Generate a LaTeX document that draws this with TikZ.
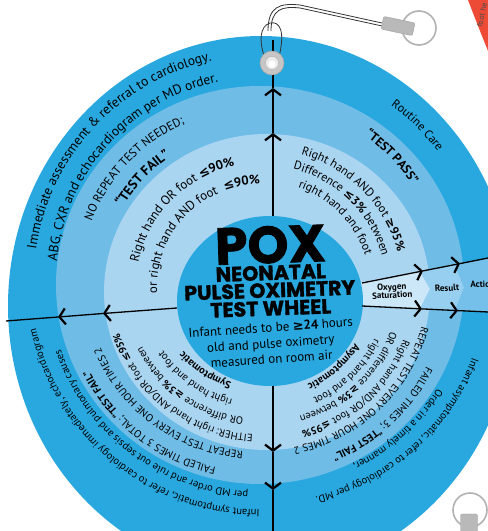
\documentclass[tikz,border=0pt]{standalone}
\usepackage{fontspec}
\setmainfont{PT Sans}
\newfontfamily\titlefont{Poppins}[BoldFeatures={FakeBold=1.5}]
\newfontfamily\symf{DejaVu Sans}
\usetikzlibrary{decorations.text,arrows.meta}
\definecolor{outerblue}{HTML}{29A8E0}
\definecolor{midblue}{HTML}{6FBCE7}
\definecolor{innerblue}{HTML}{AAD5F1}
\definecolor{centerblue}{HTML}{29A8E0}
\definecolor{oxyband}{HTML}{CBE7F8}
\definecolor{resband}{HTML}{97CFF0}
\definecolor{actband}{HTML}{74C0EA}
\definecolor{redwheel}{HTML}{EE4B36}
\newcommand\myfo{\fontsize{12}{14}\selectfont}
\newcommand\myfoL{\fontsize{13.5}{15}\selectfont}
\newcommand\myfmL{\fontsize{12}{14}\selectfont}
\newcommand\myfmb{\fontsize{12.5}{14}\selectfont\bfseries}
\newcommand\myfmbL{\fontsize{13.5}{15}\selectfont\bfseries}
\newcommand\myfin{\fontsize{12}{14}\selectfont}
\newcommand\myfinb{\fontsize{12}{14}\selectfont\bfseries}
\newcommand\myfinL{\fontsize{12.8}{14}\selectfont}
\newcommand\myfinbL{\fontsize{12.8}{14}\selectfont\bfseries}
\newcommand\myfs{\fontsize{10.5}{12}\selectfont}
\newcommand\myfsb{\fontsize{10.5}{12}\selectfont\bfseries}
% #1 cx, #2 cy, #3 rx, #4 ry, #5 mid angle, #6 format, #7 text
\newcommand\arctext[7]{%
  \path[decorate,decoration={text along path,text align=center,text={|#6|#7}}]
    (#1,#2) ++(#5+85:#3 and #4) arc[start angle=#5+85,end angle=#5-85,x radius=#3,y radius=#4];}
\tikzset{
  wline/.style={line width=1.3pt,black},
  chev/.style={wline,-{Straight Barb[length=6pt,width=16pt,line width=2.2pt]}},
}
\begin{document}
\begin{tikzpicture}[x=1pt,y=1pt]
\useasboundingbox (0,0) rectangle (488,531);
\begin{scope}
\clip (0,0) rectangle (488,531);
% red wheel peeking at top right
\fill[redwheel] (468,531) .. controls (476,510) and (482,495) .. (488,480) -- (488,531) -- cycle;
\node[rotate=78,font=\fontsize{8}{9}\selectfont,text=black!70] (redtxt) at (482,516) {foot he};
% rings
\fill[outerblue] (261,225) ellipse[x radius=253,y radius=270];
\fill[midblue] (260,246) ellipse[x radius=204,y radius=199];
\fill[innerblue] (267,239) ellipse[x radius=163,y radius=158];
% right band
\fill[oxyband] (340,245) -- (420,259.5) -- (430,242) -- (420,222.2) -- (340,226) -- cycle;
\fill[resband] (420,259.5) -- (455,266.5) -- (464,243.5) -- (455,220.6) -- (420,222.2) -- (430,242) -- cycle;
\fill[actband] (455,266.5) -- (495,274.5) -- (495,218.7) -- (455,220.6) -- (464,243.5) -- cycle;
% centre circle
\fill[centerblue] (270,230) ellipse[x radius=93,y radius=85];
% connectors
\coordinate (ct) at (273,315); \coordinate (t1) at (273,398); \coordinate (t2) at (273,443); \coordinate (tend) at (273,491);
\coordinate (cb) at (273,145); \coordinate (b1) at (273,79); \coordinate (b2) at (273,41); \coordinate (bend) at (273,-5);
\coordinate (cl) at (177,223); \coordinate (l1) at (103,217.5); \coordinate (l2) at (58,214); \coordinate (lend) at (6,210);
\coordinate (cu) at (362,248); \coordinate (u1) at (423,260.1); \coordinate (u2) at (460,267.4); \coordinate (uend) at (495,274.4);
\coordinate (cd) at (362,225); \coordinate (d1) at (422,222.1); \coordinate (d2) at (458,220.4); \coordinate (dend) at (495,218.7);
\draw[chev] (ct) -- (t1); \draw[chev] (t1) -- (t2); \draw[wline] (t2) -- (tend);
\draw[chev] (cb) -- (b1); \draw[chev] (b1) -- (b2); \draw[wline] (b2) -- (bend);
\draw[chev] (cl) -- (l1); \draw[chev] (l1) -- (l2); \draw[wline] (l2) -- (lend);
\draw[chev] (cu) -- (u1); \draw[chev] (u1) -- (u2); \draw[wline] (u2) -- (uend);
\draw[chev] (cd) -- (d1); \draw[chev] (d1) -- (d2); \draw[wline] (d2) -- (dend);
% band labels
\node[font=\fontsize{9}{10}\selectfont\bfseries,align=center,rotate=3] (oxy) at (392,240) {Oxygen\\[-2pt]Saturation};
\node[font=\fontsize{9}{10}\selectfont\bfseries,rotate=3] (res) at (447,243) {Result};
\node[font=\fontsize{9}{10}\selectfont\bfseries,rotate=3,anchor=west] (act) at (467,246) {Action};
% title
\node[font=\titlefont\bfseries\fontsize{52}{52}\selectfont,anchor=base,rotate=2] (pox) at (271,268) {POX};
\node[font=\titlefont\bfseries\fontsize{20.5}{20}\selectfont,anchor=base,rotate=2] (neo) at (271,251) {NEONATAL};
\node[font=\titlefont\bfseries\fontsize{20.5}{20}\selectfont,anchor=base,rotate=2] (pulse) at (270,233.5) {PULSE OXIMETRY};
\node[font=\titlefont\bfseries\fontsize{20.5}{20}\selectfont,anchor=base,rotate=2] (wheel) at (271,215.5) {TEST WHEEL};
\node[font=\fontsize{13}{14}\selectfont,anchor=base,rotate=4] (inf1) at (271,199) {Infant needs to be \textbf{{\symf ≥}24} hours};
\node[font=\fontsize{13}{14}\selectfont,anchor=base,rotate=4] (inf2) at (271,183) {old and pulse oximetry};
\node[font=\fontsize{13}{14}\selectfont,anchor=base,rotate=4] (inf3) at (272,167.5) {measured on room air};
% top-left
\arctext{262}{250}{228}{226}{137.5}{\myfoL}{Immediate assessment {\&} referral to cardiology.}
\arctext{262}{250}{206}{204}{138.5}{\myfoL}{ABG, CXR and echocardiogram per MD order.}
\arctext{258}{247}{178}{176}{137}{\myfmL}{NO REPEAT TEST NEEDED;}
\arctext{258}{247}{156}{154}{137.5}{\myfmbL}{“TEST FAIL”}
\arctext{262}{244}{126}{124}{136}{\myfinL}{Right hand OR foot |\myfinbL|{\symf ≤}90{\%}}
\arctext{262}{244}{105}{103}{137.5}{\myfinL}{or right hand AND foot \ |\myfinbL|{\symf ≤}90{\%}}
% top-right
\arctext{262}{250}{219}{217}{45}{\myfo}{Routine Care}
\arctext{258}{247}{184}{182}{43.5}{\myfmb}{“TEST PASS”}
\arctext{262}{244}{140}{138}{44}{\myfin}{Right hand AND foot |\myfinb|{\symf ≥}95{\%}}
\arctext{262}{244}{124}{122}{44.7}{\myfin}{Difference |\myfinb|{\symf ≤}3{\%}|\myfin| between}
\arctext{262}{244}{108}{106}{43.5}{\myfin}{right hand and foot}
% bottom-left
\arctext{262}{250}{231}{229}{230.6}{\myfs}{Infant symptomatic, refer to cardiology immediately, echocardiogram}
\arctext{262}{250}{213}{211}{232.5}{\myfs}{per MD order and rule out sepsis and pulmonary causes}
\arctext{258}{247}{190}{188}{232}{\myfs}{FAILED TIMES 3 TOTAL; |\myfsb|“TEST FAIL”}
\arctext{258}{247}{170}{168}{233.3}{\myfs}{REPEAT TEST EVERY ONE HOUR TIMES 2}
\arctext{262}{244}{150}{148}{232}{\myfs}{EITHER: right hand AND/OR foot |\myfsb|{\symf ≤}95{\%}}
\arctext{262}{244}{134}{132}{234}{\myfs}{OR difference |\myfsb|{\symf ≥}3{\%}|\myfs| between}
\arctext{262}{244}{118}{116}{234}{\myfs}{right hand and foot}
\arctext{262}{244}{102}{100}{235.6}{\myfsb}{Symptomatic}
% bottom-right
\arctext{262}{250}{224}{222}{-48}{\myfs}{Infant asymptomatic, refer to cardiology per MD.}
\arctext{262}{250}{206}{204}{-47.5}{\myfs}{Order in a timely manner,}
\arctext{258}{247}{188}{186}{-46.3}{\myfs}{FAILED TIMES 3; |\myfsb|“TEST FAIL”}
\arctext{258}{247}{169}{167}{-46}{\myfs}{REPEAT TEST EVERY ONE HOUR TIMES 2}
\arctext{262}{244}{151}{149}{-47.4}{\myfs}{Right hand AND/OR foot |\myfsb|{\symf ≤}95{\%}}
\arctext{262}{244}{136}{134}{-46.3}{\myfs}{OR difference |\myfsb|{\symf ≥}3{\%}|\myfs| between}
\arctext{262}{244}{124}{122}{-45}{\myfs}{right hand and foot}
\arctext{262}{244}{109}{107}{-48}{\myfsb}{Asymptomatic}
% cord and grommet
\draw[black!80,line width=0.8pt] (266,470) .. controls (258,490) and (260,505) .. (270,508) .. controls (280,510) and (286,500) .. (278,470);
\draw[black!80,line width=0.8pt] (268,500) .. controls (268,525) and (280,528) .. (300,526) -- (382,508);
\draw[black!80,line width=0.8pt] (271,500) .. controls (271,522) and (282,525) .. (300,523) -- (382,505);
\node[circle,fill=gray!45,draw=gray!70,line width=0.6pt,minimum size=24pt,inner sep=0pt] (grom) at (272,468) {};
\node[circle,fill=gray!15,draw=gray!60,minimum size=13pt,inner sep=0pt] (gromin) at (272,468) {};
\node[circle,fill=white,minimum size=7pt,inner sep=0pt] (gromhole) at (272,467) {};
% key clips
\draw[gray!60,line width=1.6pt] (419,503) circle[radius=17];
\node[rectangle,rounded corners=2pt,fill=gray!55,draw=gray!75,minimum width=32pt,minimum height=13pt,rotate=-12] (clip1) at (398,505) {};
\draw[gray!60,line width=1.6pt] (470,21) circle[radius=17];
\node[rectangle,rounded corners=2pt,fill=gray!55,draw=gray!75,minimum width=17pt,minimum height=26pt] (clip2) at (469,4) {};
\end{scope}
\end{tikzpicture}
\end{document}
